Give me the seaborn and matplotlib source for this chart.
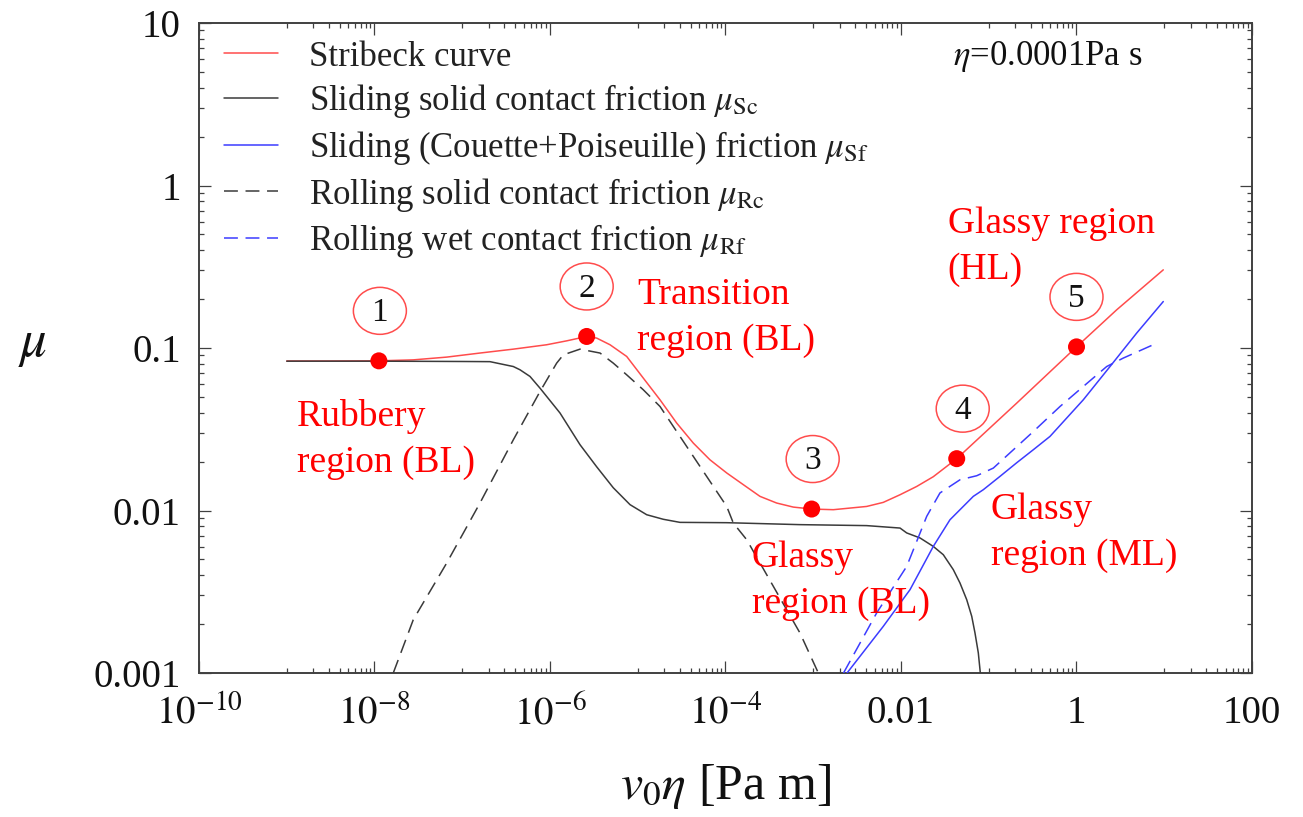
import numpy as np
import matplotlib
matplotlib.use("Agg")
import matplotlib.pyplot as plt
import seaborn as sns
from matplotlib.ticker import FixedLocator, FixedFormatter, NullFormatter, LogLocator
from matplotlib.patches import Ellipse
from matplotlib.transforms import Affine2D, ScaledTranslation

# ---------------- data (log10 of v0*eta [Pa m], log10 of mu) ----------------
stribeck_lx = [-9.0, -8.5, -7.95, -7.558, -7.177, -6.798, -6.418, -6.038, -5.810, -5.582,
               -5.468, -5.316, -5.126, -4.937, -4.746, -4.556, -4.367, -4.177, -3.986,
               -3.797, -3.607, -3.417, -3.227, -3.018, -2.771, -2.581, -2.391, -2.202,
               -2.011, -1.821, -1.632, -1.365, -0.681, 0.0, 0.458, 0.989]
stribeck_ly = [-1.080, -1.080, -1.079, -1.073, -1.056, -1.031, -1.007, -0.980, -0.956, -0.929,
               -0.939, -0.980, -1.052, -1.185, -1.319, -1.462, -1.585, -1.688, -1.769,
               -1.841, -1.913, -1.954, -1.979, -1.991, -1.995, -1.985, -1.975, -1.950,
               -1.903, -1.852, -1.792, -1.681, -1.339, -0.993, -0.765, -0.519]

sc_lx = [-9.0, -7.95, -6.988, -6.684, -6.418, -6.342, -6.228, -6.114, -5.886, -5.658, -5.468,
         -5.279, -5.088, -4.898, -4.709, -4.519, -3.986, -3.151, -2.391, -2.011, -1.935,
         -1.783, -1.632, -1.518, -1.404, -1.328, -1.251, -1.194, -1.157, -1.119, -1.096]
sc_ly = [-1.081, -1.081, -1.083, -1.084, -1.114, -1.134, -1.175, -1.247, -1.400, -1.595, -1.731,
         -1.860, -1.964, -2.026, -2.054, -2.073, -2.075, -2.087, -2.093, -2.108, -2.138,
         -2.169, -2.221, -2.272, -2.364, -2.446, -2.549, -2.651, -2.753, -2.876, -3.0]

sf_lx = [-2.615, -2.202, -1.897, -1.632, -1.442, -1.176, -1.062, -0.872, -0.681, -0.492,
         -0.302, 0.077, 0.382, 0.686, 0.989]
sf_ly = [-3.0, -2.713, -2.487, -2.221, -2.057, -1.913, -1.872, -1.790, -1.706, -1.626,
         -1.544, -1.319, -1.114, -0.908, -0.714]

rc_lx = [-7.786, -7.558, -7.177, -6.798, -6.418, -6.114, -5.924, -5.848, -5.658, -5.43,
         -5.279, -5.126, -4.937, -4.746, -4.367, -3.986, -3.911, -3.758, -3.151, -2.942]
rc_ly = [-3.0, -2.672, -2.323, -1.954, -1.565, -1.268, -1.093, -1.042, -1.007, -1.031,
         -1.093, -1.165, -1.257, -1.360, -1.667, -1.975, -2.077, -2.180, -2.754, -3.0]

rf_lx = [-2.655, -2.277, -1.935, -1.707, -1.556, -1.328, -1.137, -0.948, -0.492, -0.188,
         0.077, 0.344, 0.533, 0.932]
rf_ly = [-3.0, -2.630, -2.344, -2.036, -1.892, -1.811, -1.786, -1.739, -1.514, -1.360,
         -1.237, -1.114, -1.062, -0.966]

marker_lx = [-7.95, -5.582, -3.018, -1.365, 0.0]
marker_ly = [-1.079, -0.929, -1.991, -1.681, -0.993]
circle_labels = ["1", "2", "3", "4", "5"]

series_labels = ["Stribeck curve",
                 r"Sliding solid contact friction $\mu_{\mathrm{Sc}}$",
                 r"Sliding (Couette+Poiseuille) friction $\mu_{\mathrm{Sf}}$",
                 r"Rolling solid contact friction $\mu_{\mathrm{Rc}}$",
                 r"Rolling wet contact friction $\mu_{\mathrm{Rf}}$"]

xtick_exp = [-10, -8, -6, -4, -2, 0, 2]
xtick_labels = [r"$10^{-10}$", r"$10^{-8}$", r"$10^{-6}$", r"$10^{-4}$", "0.01", "1", "100"]
ytick_exp = [-3, -2, -1, 0, 1]
ytick_labels = ["0.001", "0.01", "0.1", "1", "10"]

region_texts = ["Rubbery\nregion (BL)", "Transition\nregion (BL)", "Glassy region\n(HL)",
                "Glassy\nregion (BL)", "Glassy\nregion (ML)"]

# ---------------- style ----------------
sns.set_theme(style="ticks")
plt.rcParams["font.family"] = ["Liberation Serif", "DejaVu Serif"]
plt.rcParams["mathtext.fontset"] = "stix"
plt.rcParams["lines.scale_dashes"] = False

RED_LINE = "#ff4c4c"
RED_PT = "#ff0000"
BLACK = "#3a3a3a"
BLUE = "#3c3cff"
FRAME = "#404040"

fig = plt.figure(figsize=(13.03, 8.17), dpi=100)
ax = fig.add_axes([0.15272, 0.17625, 0.80814, 0.79559])
ax.set_xscale("log")
ax.set_yscale("log")
ax.set_xlim(1e-10, 100)
ax.set_ylim(1e-3, 10)

def p10(a):
    return 10.0 ** np.asarray(a, dtype=float)

specs = [
    (stribeck_lx, stribeck_ly, RED_LINE, False, 2),
    (sc_lx, sc_ly, BLACK, False, 3),
    (sf_lx, sf_ly, BLUE, False, 3),
    (rc_lx, rc_ly, BLACK, True, 3),
    (rf_lx, rf_ly, BLUE, True, 3),
]
handles = []
for (lx, ly, col, dashed, z), lab in zip(specs, series_labels):
    sns.lineplot(x=p10(lx), y=p10(ly), ax=ax, color=col, lw=1.1, sort=False,
                 estimator=None, zorder=z, label=lab)
    ln = ax.lines[-1]
    ln.set_solid_joinstyle("round")
    ln.set_dash_joinstyle("round")
    if dashed:
        ln.set_dashes((10, 5.5))
    handles.append(ln)

sns.scatterplot(x=p10(marker_lx), y=p10(marker_ly), ax=ax, color=RED_PT, s=150,
                edgecolor="none", zorder=6, legend=False)

circle_dx = [1, 0, 1, 6, 0]
for lx, ly, lab, dx in zip(marker_lx, marker_ly, circle_labels, circle_dx):
    trans = Affine2D().translate(dx, 50) + ScaledTranslation(10.0 ** lx, 10.0 ** ly, ax.transData)
    ax.add_patch(Ellipse((0, 0), 53, 47, transform=trans, fill=False, ec=RED_LINE,
                         lw=1.1, zorder=6))
    ax.annotate(lab, xy=(10.0 ** lx, 10.0 ** ly), xytext=(dx, 48), textcoords="offset pixels",
                ha="center", va="center", fontsize=24, color="#111111", zorder=7)

# region labels (axes-fraction positions, last-line baseline)
region_pos = [(0.0928, 0.3097), (0.416, 0.4969), (0.711, 0.6071), (0.525, 0.0923),
              (0.752, 0.1662)]
for txt, (px, py) in zip(region_texts, region_pos):
    ax.text(px, py, txt, transform=ax.transAxes, fontsize=27, color=RED_PT,
            ha="left", va="baseline", linespacing=1.42, zorder=8)

ax.text(0.716, 0.935, r"$\eta$=0.0001Pa s", transform=ax.transAxes, fontsize=25,
        ha="left", va="baseline", color="#111111")

# ticks
ax.xaxis.set_major_locator(FixedLocator(p10(xtick_exp)))
ax.xaxis.set_major_formatter(FixedFormatter(xtick_labels))
minor_x = [k * 10.0 ** e for e in (-9, -7, -5, -3, -1, 1) for k in range(1, 10)]
ax.xaxis.set_minor_locator(FixedLocator(minor_x))
ax.xaxis.set_minor_formatter(NullFormatter())
ax.yaxis.set_major_locator(FixedLocator(p10(ytick_exp)))
ax.yaxis.set_major_formatter(FixedFormatter(ytick_labels))
ax.yaxis.set_minor_locator(LogLocator(base=10, subs=np.arange(2, 10), numticks=50))
ax.yaxis.set_minor_formatter(NullFormatter())

ax.tick_params(which="both", direction="in", top=True, right=True, color=FRAME,
               width=0.9, labelsize=28, labelcolor="#111111")
ax.tick_params(which="major", length=8.6)
ax.tick_params(which="minor", length=3.6)
ax.tick_params(axis="y", pad=13)
ax.tick_params(axis="x", pad=16)
for sp in ax.spines.values():
    sp.set_linewidth(1.4)
    sp.set_color(FRAME)

ax.set_xlabel(r"$v_0\eta$ [Pa m]", fontsize=36, color="#111111")
ax.xaxis.set_label_coords(0.5, -0.137)
ax.set_ylabel(r"$\mu$", fontsize=38, rotation=0, color="#111111")
ax.yaxis.label.set_ha("center")
ax.yaxis.label.set_va("center")
ax.yaxis.set_label_coords(-0.158, 0.505)

ax.legend(handles=handles, labels=series_labels, loc="upper left",
          bbox_to_anchor=(0.0237, 0.973), frameon=False, fontsize=25,
          handlelength=1.56, handletextpad=0.89, labelspacing=0.25,
          borderpad=0, borderaxespad=0, labelcolor="#222222")

ax.set_xlim(1e-10, 100)
ax.set_ylim(1e-3, 10)
fig.savefig("out.png", dpi=100)
